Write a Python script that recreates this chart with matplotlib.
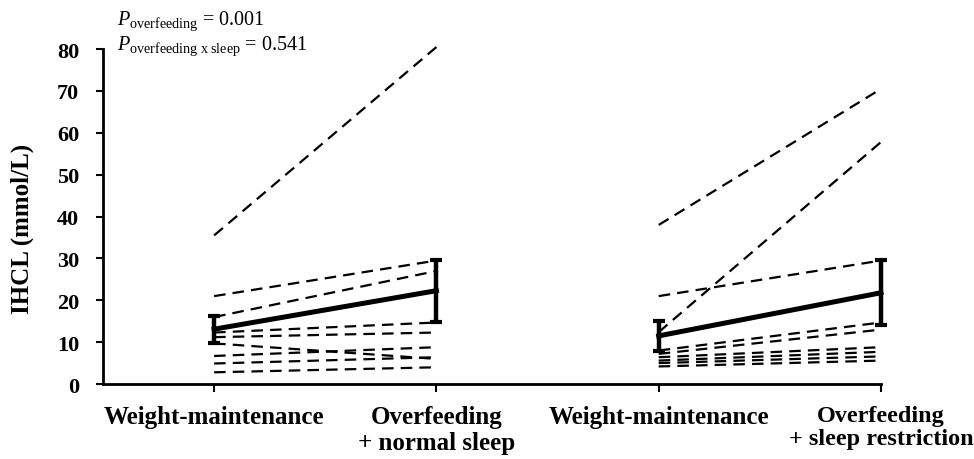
import matplotlib
matplotlib.use("Agg")
import matplotlib.pyplot as plt

plt.rcParams['font.family'] = ['Liberation Serif', 'DejaVu Serif']
plt.rcParams['mathtext.fontset'] = 'custom'
plt.rcParams['mathtext.rm'] = 'Liberation Serif'
plt.rcParams['mathtext.it'] = 'Liberation Serif:italic'

# individual subjects, IHCL (mmol/L): [weight-maintenance, overfeeding]
normal_sleep = [
    [35.5, 80.5],
    [21.0, 29.5],
    [16.0, 27.0],
    [12.3, 14.7],
    [11.2, 12.3],
    [9.7, 6.0],
    [6.7, 8.8],
    [4.9, 6.4],
    [2.8, 4.0],
]
sleep_restriction = [
    [38.0, 70.5],
    [12.4, 57.8],
    [21.0, 29.5],
    [8.0, 14.7],
    [7.2, 13.0],
    [6.4, 8.8],
    [5.6, 7.7],
    [5.0, 6.6],
    [4.2, 5.6],
]

# group means and SEM
mean_normal = [13.1, 22.3]
sem_normal = [3.2, 7.4]
mean_restrict = [11.5, 21.8]
sem_restrict = [3.6, 7.8]

x_labels = ["Weight-maintenance", "Overfeeding\n+ normal sleep",
            "Weight-maintenance", "Overfeeding\n+ sleep restriction"]

fig = plt.figure(figsize=(9.74, 4.6), dpi=100)
ax = fig.add_axes([0.1057, 0.163, 0.7988, 0.728])

for xs, subjects, mean, sem in [([1, 2], normal_sleep, mean_normal, sem_normal),
                                ([3, 4], sleep_restriction, mean_restrict, sem_restrict)]:
    for s in subjects:
        ax.plot(xs, s, color='black', lw=1.6, dashes=(5.2, 3.2), clip_on=False)
    ax.errorbar(xs, mean, yerr=sem, color='black', lw=3.6, elinewidth=3.2,
                capsize=4, capthick=3, clip_on=False, zorder=5)

ax.set_xlim(0.5, 4.0)
ax.set_ylim(0, 80)
ax.set_xticks([1, 2, 3, 4])
ax.set_xticklabels(x_labels, fontsize=18, fontweight='bold', linespacing=1.15)
ax.set_yticks(range(0, 81, 10))
ax.tick_params(axis='y', labelsize=16, width=1.5, length=5, direction='out', pad=12)
ax.tick_params(axis='x', width=1.5, length=6, direction='out', pad=9)
for lbl in ax.get_yticklabels():
    lbl.set_fontweight('bold')
# long last label sits against the right edge
ax.get_xticklabels()[-1].set_fontsize(17.5)

ax.set_ylabel("IHCL (mmol/L)", fontsize=18, fontweight='bold')
ax.yaxis.set_label_coords(-0.088, 0.466)

for side in ['top', 'right']:
    ax.spines[side].set_visible(False)
for side in ['left', 'bottom']:
    ax.spines[side].set_linewidth(2)

fig.text(0.12, 0.9457, r"$\mathit{P}_{\mathrm{overfeeding}}$ = 0.001",
         fontsize=14.5, va='baseline')
fig.text(0.12, 0.891, r"$\mathit{P}_{\mathrm{overfeeding\ x\ sleep}}$ = 0.541",
         fontsize=14.5, va='baseline')

fig.savefig("out.png", dpi=100)
